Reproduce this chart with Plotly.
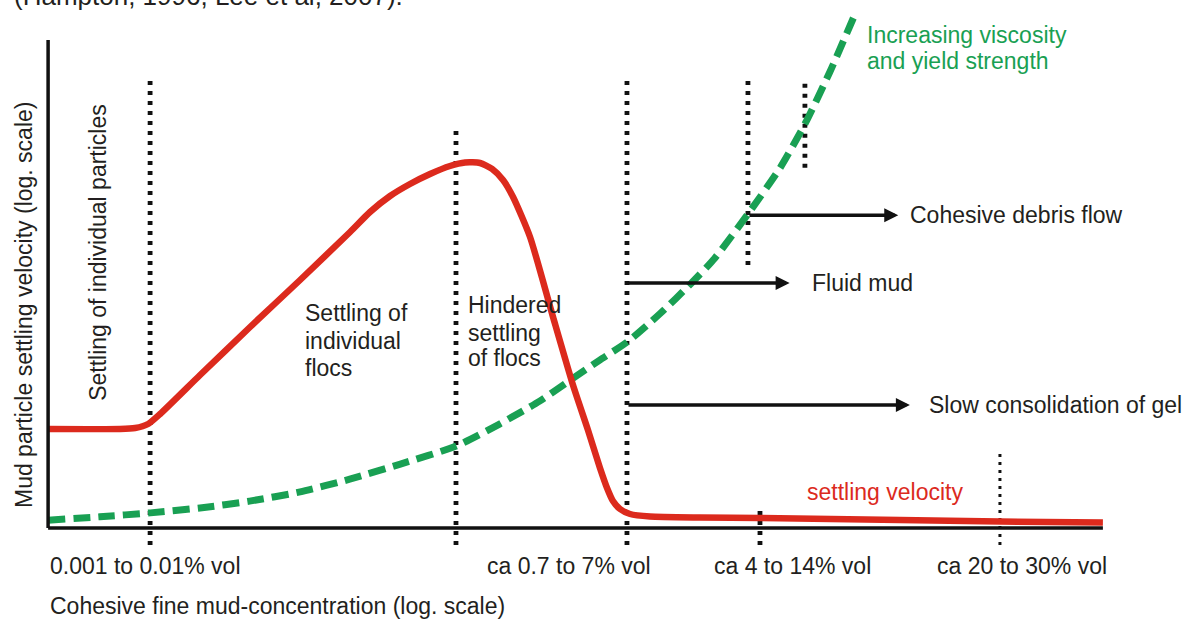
import plotly.graph_objects as go

# Relative position along the (log) concentration axis, 0-100
conc_settling = [0, 6.82, 8.25, 9.48, 10.62, 14.41, 19.15, 23.89, 28.63, 30.52, 32.42,
                 34.31, 36.21, 38.10, 39.53, 40.95, 42.09, 43.13, 44.08, 45.69, 47.87,
                 49.76, 51.18, 52.32, 52.99, 53.55, 54.22, 55.17, 57.06, 61.80, 67.49,
                 80.76, 90.24, 100]
# Relative settling velocity (log scale), 0-100
settling_velocity = [20.29, 20.29, 20.49, 21.31, 23.36, 31.35, 41.19, 50.82, 60.66, 64.75,
                     68.03, 70.49, 72.54, 74.18, 74.90, 74.80, 73.57, 71.31, 67.83, 59.63,
                     43.24, 29.30, 20.08, 12.30, 8.20, 5.53, 3.89, 2.87, 2.36, 2.15, 2.05,
                     1.64, 1.33, 1.13]

conc_viscosity = [0, 4.9, 9.7, 14.4, 19.1, 23.9, 28.6, 33.4, 38.7, 42.8, 46.6, 49.5,
                  52.3, 54.9, 58.0, 61.0, 63.2, 66.4, 69.4, 71.8, 74.1, 76.5]
viscosity = [1.6, 2.3, 3.1, 4.1, 5.5, 7.4, 10.0, 13.1, 16.8, 21.3, 26.0, 30.3,
             34.4, 38.1, 43.9, 50.2, 55.3, 64.5, 73.8, 83.0, 93.4, 105.3]

# Regime boundaries: concentration position and vertical extent
boundary_conc = [9.67, 38.67, 54.88, 66.35, 71.75, 67.49, 90.24]
boundary_low = [-3.5, -3.5, -3.5, 53.9, 73.8, -3.5, -3.5]
boundary_high = [92.8, 82.6, 92.8, 92.8, 91.4, 3.7, 15.4]

# Concentration ranges written under the axis
conc_labels = ["0.001 to 0.01% vol", "ca 0.7 to 7% vol", "ca 4 to 14% vol", "ca 20 to 30% vol"]
conc_label_pos = [9.24, 49.4, 70.6, 92.3]

# Flow regimes: start, end of arrow and level
regimes = ["Cohesive debris flow", "Fluid mud", "Slow consolidation of gel"]
regime_start = [66.35, 54.88, 54.88]
regime_end = [80.6, 70.3, 81.7]
regime_level = [64.1, 50.2, 25.2]
regime_text_x = [81.5, 72.2, 83.3]

RED = "#dc2a1d"
GREEN = "#19a053"
INK = "#231f20"
FONT = "Liberation Sans, Arial, sans-serif"

fig = go.Figure()

for i, (xc, lo, hi) in enumerate(zip(boundary_conc, boundary_low, boundary_high)):
    thin = i == 6
    fig.add_trace(go.Scatter(
        x=[xc, xc], y=[lo, hi], mode="lines",
        line=dict(color="#111111", width=3 if thin else 4.8,
                  dash="3px,5px" if thin else "4px,6px"),
        hoverinfo="skip"))

fig.add_trace(go.Scatter(
    x=conc_viscosity, y=viscosity, mode="lines",
    line=dict(color=GREEN, width=7, dash="17px,8px", shape="spline", smoothing=0.6),
    hoverinfo="skip"))

fig.add_trace(go.Scatter(
    x=conc_settling, y=settling_velocity, mode="lines",
    line=dict(color=RED, width=6.5, shape="spline", smoothing=0.6),
    hoverinfo="skip"))

shapes = [
    dict(type="line", xref="x", yref="y", x0=0, x1=100, y0=0, y1=0,
         line=dict(color="#111111", width=3.5)),
    dict(type="line", xref="x", yref="y", x0=0, x1=0, y0=0, y1=100,
         line=dict(color="#111111", width=3.5)),
]

annotations = []

def text(x, y, s, xref="x", yref="y", color=INK, size=23, xanchor="left",
         yanchor="middle", angle=0):
    annotations.append(dict(x=x, y=y, xref=xref, yref=yref, text=s, showarrow=False,
                            xanchor=xanchor, yanchor=yanchor, textangle=angle,
                            font=dict(family=FONT, size=size, color=color)))

# Regime arrows
for name, x0, x1, lv, tx in zip(regimes, regime_start, regime_end, regime_level, regime_text_x):
    annotations.append(dict(x=x1, y=lv, ax=x0, ay=lv, xref="x", yref="y",
                            axref="x", ayref="y", text="", showarrow=True,
                            arrowhead=2, arrowsize=0.8, arrowwidth=3.5,
                            arrowcolor="#111111", standoff=0))
    text(tx, lv, name)

# Concentration labels
for lab, pos in zip(conc_labels, conc_label_pos):
    text(pos, -0.0335, lab, yref="paper", xanchor="center")

text(0, -0.1078, "Cohesive fine mud-concentration (log. scale)", yref="paper")
text(-0.0027, 0.4517, "Mud particle settling velocity (log. scale)", xref="paper",
     yref="paper", xanchor="center", angle=-90)
text(4.74, 56.4, "Settling of individual particles", xanchor="center", angle=-90)

for line, yy in zip(["Settling of", "individual", "flocs"], [44.1, 38.3, 32.8]):
    text(24.2, yy, line)
for line, yy in zip(["Hindered", "settling", "of flocs"], [45.7, 40.0, 34.8]):
    text(39.6, yy, line)

text(71.8, 7.4, "settling velocity", color=RED)
text(77.4, 101.0, "Increasing viscosity", color=GREEN)
text(77.4, 95.7, "and yield strength", color=GREEN)

# Source line, partly above the top edge of the page
text(-0.0137, 0.9944, "(Hampton, 1996, Lee et al, 2007).", xref="paper", yref="paper",
     size=26, yanchor="bottom")

fig.update_layout(
    width=1195, height=619,
    margin=dict(l=27, r=71, t=10, b=71),
    paper_bgcolor="white", plot_bgcolor="white",
    showlegend=False,
    xaxis=dict(range=[-2, 102], visible=False, fixedrange=True),
    yaxis=dict(range=[-4.1, 106.15], visible=False, fixedrange=True),
    shapes=shapes,
    annotations=annotations,
)

fig.write_html("out.html", config={"displayModeBar": False})
